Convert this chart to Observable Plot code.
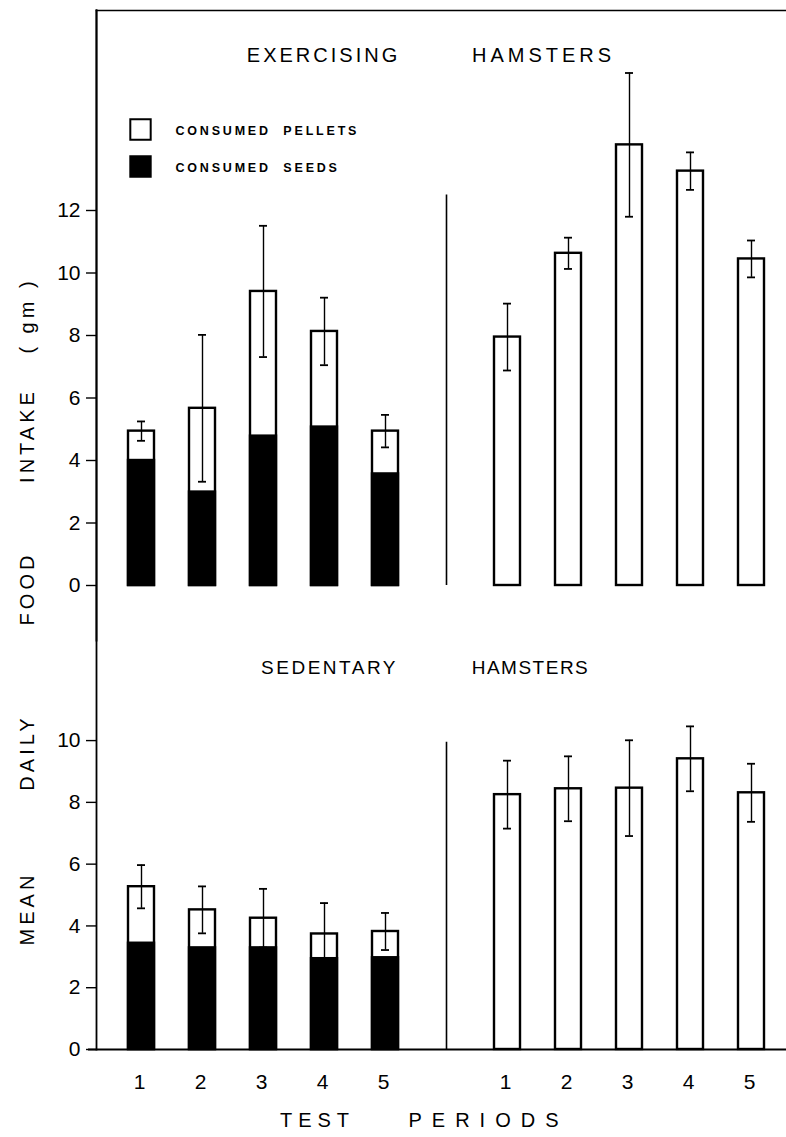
<!DOCTYPE html>
<html><head><meta charset="utf-8">
<script src="https://cdn.jsdelivr.net/npm/d3@7"></script>
<script src="https://cdn.jsdelivr.net/npm/@observablehq/plot@0.6"></script>
<style>
body{margin:0;background:#fff;}
#chart{width:786px;height:1137px;overflow:hidden;background:#fff;position:relative;}
#chart svg{display:block;background:transparent !important;overflow:visible !important;}
</style></head><body><div id="chart"></div>
<script>
// ---- data ----
const periods = ["1","2","3","4","5"];
const slots = ["S1","S2","S3","S4","S5","gap","P1","P2","P3","P4","P5"];
const legendLabels = ["CONSUMED  PELLETS", "CONSUMED  SEEDS"];
// Exercising hamsters: seeds + pellets group (left), pellets only (right)
const exMixedTotal = [4.94, 5.67, 9.41, 8.13, 4.94];
const exMixedSeeds = [4.00, 2.99, 4.78, 5.07, 3.57];
const exMixedErr   = [0.31, 2.35, 2.10, 1.08, 0.52];
const exPelletTotal = [7.95, 10.63, 14.10, 13.26, 10.45];
const exPelletErr   = [1.07, 0.50, 2.30, 0.60, 0.59];
// Sedentary hamsters
const sedMixedTotal = [5.27, 4.52, 4.25, 3.74, 3.82];
const sedMixedSeeds = [3.44, 3.29, 3.29, 2.94, 2.97];
const sedMixedErr   = [0.70, 0.76, 0.95, 1.00, 0.60];
const sedPelletTotal = [8.25, 8.44, 8.46, 9.41, 8.31];
const sedPelletErr   = [1.10, 1.05, 1.55, 1.05, 0.94];
const yTicksTop = [0, 2, 4, 6, 8, 10, 12];
const yTicksBottom = [0, 2, 4, 6, 8, 10];
const dividerTop = 12.5, dividerBottom = 9.95;

function buildRows(mt, ms, me, pt, pe) {
  const rows = [];
  periods.forEach((p, i) => rows.push({slot: "S" + p, total: mt[i], seeds: ms[i], err: me[i]}));
  periods.forEach((p, i) => rows.push({slot: "P" + p, total: pt[i], seeds: 0, err: pe[i]}));
  return rows;
}
const exRows = buildRows(exMixedTotal, exMixedSeeds, exMixedErr, exPelletTotal, exPelletErr);
const sedRows = buildRows(sedMixedTotal, sedMixedSeeds, sedMixedErr, sedPelletTotal, sedPelletErr);

const FONT = "Liberation Sans, Arial, sans-serif";
const xScale = {type: "band", domain: slots, paddingInner: 0.58, paddingOuter: 0.39, align: 0.58};

function barMarks(rows, divider) {
  return [
    Plot.barY(rows, {x: "slot", y1: 0, y2: "total", fill: "white", stroke: "black", strokeWidth: 2.4}),
    Plot.barY(rows.filter(d => d.seeds > 0), {x: "slot", y1: 0, y2: "seeds", fill: "black", stroke: "black", strokeWidth: 2.4}),
    Plot.ruleX(rows, {x: "slot", y1: d => d.total - d.err, y2: d => d.total + d.err, stroke: "black", strokeWidth: 1.4}),
    Plot.tickY(rows, {x: "slot", y: d => d.total + d.err, inset: 9, stroke: "black", strokeWidth: 1.8}),
    Plot.tickY(rows, {x: "slot", y: d => d.total - d.err, inset: 9, stroke: "black", strokeWidth: 1.8}),
    Plot.ruleX(["gap"], {x: d => d, y1: 0, y2: divider, stroke: "black", strokeWidth: 1.6})
  ];
}
function txt(s, o) {
  return Plot.text([s], Object.assign({text: d => d, fontFamily: FONT, fill: "black", lineAnchor: "middle"}, o));
}
const svgStyle = {fontFamily: FONT, fontSize: "21px", color: "black", overflow: "visible", background: "transparent"};

const topChart = Plot.plot({
  width: 786, height: 640,
  marginLeft: 96, marginRight: 0, marginTop: 10, marginBottom: 0,
  style: svgStyle,
  x: {...xScale, axis: null},
  y: {domain: [-1.76, 18.4], axis: null},
  marks: [
    Plot.frame({anchor: "left", stroke: "black", strokeWidth: 1.8}),
    Plot.frame({anchor: "top", stroke: "black", strokeWidth: 1.6}),
    ...barMarks(exRows, dividerTop),
    Plot.axisY({ticks: yTicksTop, tickSize: 10, tickPadding: 6, label: null, fontSize: 21, strokeWidth: 1.4}),
    // legend
    Plot.dot([legendLabels[0]], {frameAnchor: "top-left", dx: 44, dy: 119, symbol: "square", r: 11.5, fill: "white", stroke: "black", strokeWidth: 2}),
    Plot.dot([legendLabels[1]], {frameAnchor: "top-left", dx: 44, dy: 156, symbol: "square", r: 11.5, fill: "black", stroke: "black", strokeWidth: 2}),
    txt(legendLabels[0], {frameAnchor: "top-left", dx: 79, dy: 120, textAnchor: "start", fontSize: 12.5, fontWeight: "bold"}),
    txt(legendLabels[1], {frameAnchor: "top-left", dx: 79, dy: 157, textAnchor: "start", fontSize: 12.5, fontWeight: "bold"}),
    // titles
    txt("EXERCISING", {frameAnchor: "top-left", dx: 227, dy: 45, textAnchor: "middle", fontSize: 20}),
    txt("HAMSTERS", {frameAnchor: "top-left", dx: 447, dy: 45, textAnchor: "middle", fontSize: 20}),
    // y label pieces
    txt("FOOD", {frameAnchor: "top-left", dx: -69, dy: 578, rotate: -90, textAnchor: "middle", fontSize: 20}),
    txt("INTAKE", {frameAnchor: "top-left", dx: -69, dy: 425, rotate: -90, textAnchor: "middle", fontSize: 20}),
    txt("( gm )", {frameAnchor: "top-left", dx: -69, dy: 305, rotate: -90, textAnchor: "middle", fontSize: 20})
  ]
});

const bottomChart = Plot.plot({
  width: 786, height: 497,
  marginLeft: 96, marginRight: 0, marginTop: 0, marginBottom: 88,
  style: svgStyle,
  x: {...xScale, axis: null},
  y: {domain: [0, 13.24], axis: null},
  marks: [
    // the figure's left border runs unbroken from the top frame down to the baseline
    Plot.frame({anchor: "left", stroke: "black", strokeWidth: 1.8, insetTop: -630}),
    ...barMarks(sedRows, dividerBottom),
    Plot.ruleY([0], {insetLeft: -8, stroke: "black", strokeWidth: 2.2}),
    Plot.axisY({ticks: yTicksBottom, tickSize: 10, tickPadding: 6, label: null, fontSize: 21, strokeWidth: 1.4}),
    Plot.axisX({tickSize: 0, tickPadding: 25, tickFormat: s => s === "gap" ? "" : s.slice(1), label: null, fontSize: 21, dx: -2}),
    txt("SEDENTARY", {frameAnchor: "top-left", dx: 233, dy: 27, textAnchor: "middle", fontSize: 19}),
    txt("HAMSTERS", {frameAnchor: "top-left", dx: 434, dy: 27, textAnchor: "middle", fontSize: 19}),
    txt("DAILY", {frameAnchor: "top-left", dx: -69, dy: 112, rotate: -90, textAnchor: "middle", fontSize: 20}),
    txt("MEAN", {frameAnchor: "top-left", dx: -69, dy: 268, rotate: -90, textAnchor: "middle", fontSize: 20}),
    txt("TEST", {frameAnchor: "bottom-left", dx: 221, dy: 71, textAnchor: "middle", fontSize: 20}),
    txt("PERIODS", {frameAnchor: "bottom-left", dx: 392, dy: 71, textAnchor: "middle", fontSize: 20})
  ]
});

const spacing = {
  "CONSUMED  PELLETS": "2.8px", "CONSUMED  SEEDS": "2.8px",
  "EXERCISING": "3px", "HAMSTERS": "4px", "SEDENTARY": "2.5px",
  "FOOD": "4px", "INTAKE": "4px", "( gm )": "4px", "DAILY": "4px", "MEAN": "4px",
  "TEST": "6px", "PERIODS": "10px"
};
for (const svg of [topChart, bottomChart]) {
  d3.select(svg).selectAll("text").each(function () {
    const t = this.textContent;
    if (spacing[t]) { this.style.letterSpacing = spacing[t]; this.style.whiteSpace = "pre"; }
  });
  document.getElementById("chart").appendChild(svg);
}
// bottom panel's second title word is narrower
d3.select(bottomChart).selectAll("text").filter(function () { return this.textContent === "HAMSTERS"; }).style("letter-spacing", "1.5px");
</script>
</body></html>
